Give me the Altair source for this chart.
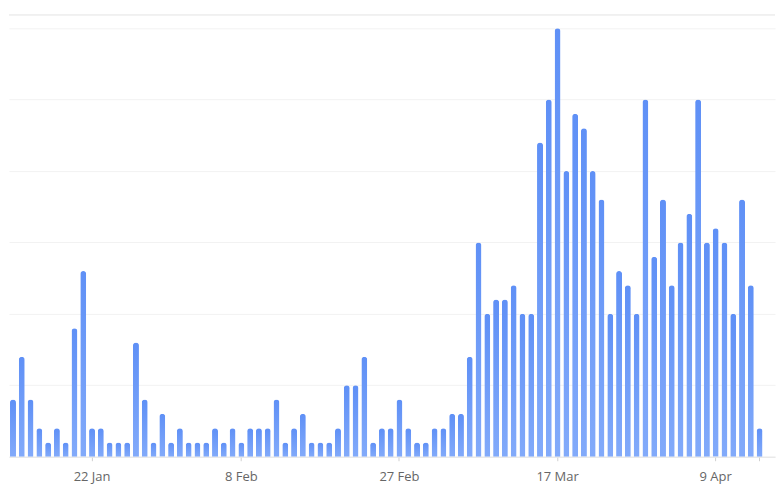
import altair as alt
import pandas as pd

# daily counts left to right
values = [4, 7, 4, 2, 1, 2, 1, 9, 13, 2,
          2, 1, 1, 1, 8, 4, 1, 3, 1, 2,
          1, 1, 1, 2, 1, 2, 1, 2, 2, 2,
          4, 1, 2, 3, 1, 1, 1, 2, 5, 5,
          7, 1, 2, 2, 4, 2, 1, 1, 2, 2,
          3, 3, 7, 15, 10, 11, 11, 12, 10, 10,
          22, 25, 30, 20, 24, 23, 20, 18, 10, 13,
          12, 10, 25, 14, 18, 12, 15, 17, 25, 15,
          16, 15, 10, 18, 12, 2]

tick_index = [9, 26, 44, 62, 80, 85]
tick_labels = ["22 Jan", "8 Feb", "27 Feb", "17 Mar", "9 Apr", ""]
grid_values = [0, 5, 10, 15, 20, 25, 30]

df = pd.DataFrame({"i": list(range(len(values))), "v": values})

expr = "''"
for idx, lab in zip(reversed(tick_index), reversed(tick_labels)):
    expr = f"datum.value == {idx} ? '{lab}' : ({expr})"

grad = alt.Gradient(
    gradient="linear",
    stops=[alt.GradientStop(color="#82aafa", offset=0),
           alt.GradientStop(color="#5f90f6", offset=1)],
    x1=0, x2=0, y1=1, y2=0,
)

bars = alt.Chart(df).mark_bar(color=grad, cornerRadiusTopLeft=3, cornerRadiusTopRight=3).encode(
    x=alt.X("i:O",
            scale=alt.Scale(paddingInner=0.318, paddingOuter=0.763, align=0.075),
            axis=alt.Axis(values=tick_index, labelExpr=expr, title=None,
                          labelAngle=0, labelFont="Open Sans", labelFontSize=13,
                          labelColor="#666666", labelPadding=10,
                          tickColor="#d0d0d0", tickSize=4, domainColor="#e3e3e3",
                          grid=False)),
    y=alt.Y("v:Q",
            scale=alt.Scale(domain=[0, 30.9], nice=False),
            axis=alt.Axis(values=grid_values, title=None, labels=False, ticks=False,
                          domain=False, grid=True, gridColor="#f2f2f2")),
)

top_rule = alt.Chart(df).mark_rule(color="#f2f2f2").encode(
    y=alt.value(0), x=alt.value(0), x2=alt.value(767)
)

chart = (bars + top_rule).properties(
    width=767, height=442,
    padding={"left": 0, "top": 6, "right": 0, "bottom": 0},
).configure_view(stroke=None)

chart.save("out.html", embed_options={"renderer": "svg", "actions": False})
